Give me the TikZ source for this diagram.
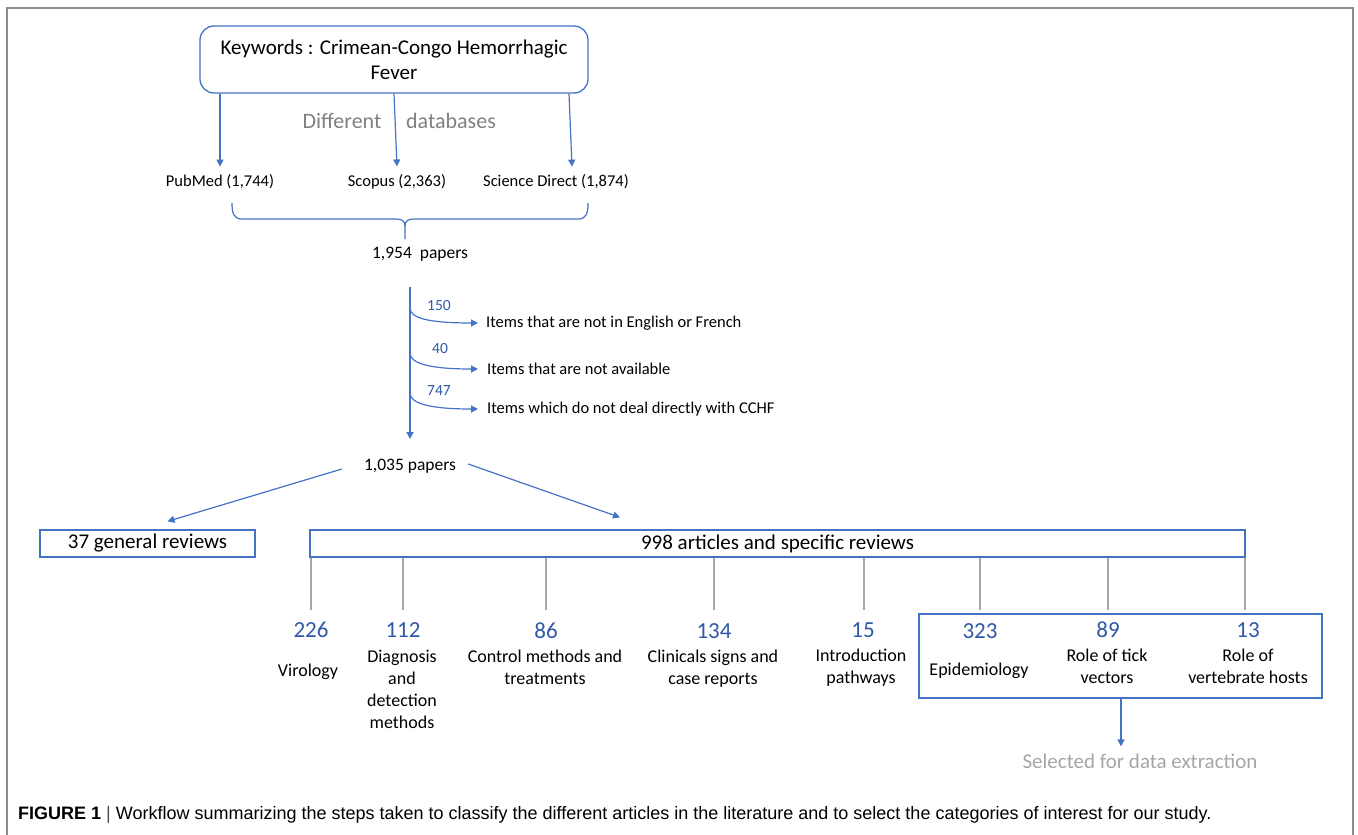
\documentclass[tikz,border=0pt]{standalone}
\usepackage{fontspec}
\setmainfont{Carlito}
\newfontfamily\capfont{Liberation Sans}
\usetikzlibrary{arrows.meta,calc}
\definecolor{cblue}{HTML}{4472C4}
\definecolor{nblue}{HTML}{3058A8}
\definecolor{gtext}{HTML}{808080}
\definecolor{ltext}{HTML}{A6A6A6}
\definecolor{gline}{HTML}{A8A8A8}
\definecolor{framec}{HTML}{8C8C8C}
\begin{document}
\begin{tikzpicture}[x=1pt,y=-1pt,
  barrow/.style={draw=cblue,line width=1.2pt,-{Triangle[width=7pt,length=7pt]}},
  bline/.style={draw=cblue,line width=1.2pt},
  glinestyle/.style={draw=gline,line width=1.2pt},
  kwbox/.style={draw=cblue,line width=1.3pt,rounded corners=14pt,minimum width=388pt,minimum height=67pt,align=center,inner sep=0pt,font=\fontsize{21}{25}\selectfont},
  dbtxt/.style={inner sep=0pt,font=\fontsize{16.5}{20}\selectfont},
  greytxt/.style={inner sep=0pt,text=gtext,font=\fontsize{22}{26}\selectfont},
  papers/.style={inner sep=0pt,font=\fontsize{17.5}{21}\selectfont},
  itemtxt/.style={inner sep=0pt,anchor=west,font=\fontsize{16.5}{20}\selectfont},
  cnt/.style={inner sep=0pt,text=nblue,font=\fontsize{15.5}{18}\selectfont},
  bigbox/.style={draw=cblue,line width=1.3pt,minimum height=27pt,inner sep=0pt,font=\fontsize{21}{25}\selectfont},
  num/.style={inner sep=0pt,text=nblue,font=\fontsize{23}{27}\selectfont},
  cat/.style={inner sep=0pt,align=center,font=\fontsize{18}{22}\selectfont},
]
\useasboundingbox (0,0) rectangle (1358,835);
% frame
\draw[draw=framec,line width=1.5pt] (7,835) -- (7,8) -- (1353,8) -- (1353,835);

% keywords
\node[kwbox] (kw) at (394,59.5) {Keywords : Crimean-Congo Hemorrhagic\\Fever};
\node[dbtxt] (pm) at (220,182) {PubMed (1,744)};
\node[dbtxt] (sc) at (397,182) {Scopus (2,363)};
\node[dbtxt] (sd) at (556,182) {Science Direct (1,874)};
\draw[barrow] ($(kw.south)+(-174,0)$) -- ($(pm.north)+(0,-8)$);
\draw[barrow] (kw.south) -- ($(sc.north)+(0,-8)$);
\draw[barrow] ($(kw.south)+(175,0)$) -- ($(sd.north)+(16,-8)$);
\node[greytxt] (dif) at (342,121) {Different};
\node[greytxt] (dbs) at (451,121) {databases};

% brace
\coordinate (bl) at (232,203);
\coordinate (br) at (588,203);
\coordinate (btip) at (405,239);
\draw[bline] (bl) .. controls (232,214) and (234,219) .. (242,219) -- (396,219)
  .. controls (402,219) and (405,221) .. (405,226) -- (btip);
\draw[bline] (405,226) .. controls (405,221) and (408,219) .. (414,219) -- (578,219)
  .. controls (586,219) and (588,214) .. (br);
\node[papers] (p1954) at (420,254) {1,954\ \ papers};

% exclusions
\coordinate (vt) at (410,287);
\coordinate (vb) at (410,439);
\draw[barrow] (vt) -- (vb);
\node[itemtxt] (i1) at (486,323) {Items that are not in English or French};
\node[itemtxt] (i2) at (487,369) {Items that are not available};
\node[itemtxt] (i3) at (487,409) {Items which do not deal directly with CCHF};
\coordinate (b1) at (410,308);
\coordinate (b2) at (410,353);
\coordinate (b3) at (410,393);
\draw[barrow] (b1) .. controls (410,318) and (428,323) .. ($(i1.west)+(-8,0)$);
\draw[barrow] (b2) .. controls (410,363) and (428,369) .. ($(i2.west)+(-9,0)$);
\draw[barrow] (b3) .. controls (410,403) and (428,409) .. ($(i3.west)+(-9,0)$);
\node[cnt] (c1) at (439,306) {150};
\node[cnt] (c2) at (440,349) {40};
\node[cnt] (c3) at (439,391) {747};

% split
\node[papers] (p1035) at (410,466) {1,035 papers};
\node[bigbox,minimum width=215pt] (gr) at (147.5,543.5) {37 general reviews};
\node[bigbox,minimum width=935pt] (art) at (777.5,543.5) {998 articles and specific reviews};
\draw[barrow] ($(p1035.west)+(-22,3)$) -- ($(gr.north)+(20,-8)$);
\draw[barrow] ($(p1035.east)+(12,-2)$) -- ($(art.north)+(-157.5,-12)$);

% categories
\node[num] (n1) at (311,630) {226};
\node[num] (n2) at (403,630) {112};
\node[num] (n3) at (546,631) {86};
\node[num] (n4) at (714,631) {134};
\node[num] (n5) at (863,630) {15};
\node[num] (n6) at (980,631) {323};
\node[num] (n7) at (1108,630) {89};
\node[num] (n8) at (1248,630) {13};
\foreach \n/\x in {n1/311,n2/403,n3/546,n4/714,n5/864,n6/980,n7/1108,n8/1245}{
  \draw[glinestyle] (art.south -| \x,0) -- (\x,610);
}
\node[cat] (t1) at (308,672) {Virology};
\node[cat,anchor=north] (t2) at (402,650) {Diagnosis\\and\\detection\\methods};
\node[cat,anchor=north] (t3) at (545,650) {Control methods and\\treatments};
\node[cat,anchor=north] (t4) at (713,650) {Clinicals signs and\\case reports};
\node[cat,anchor=north] (t5) at (861,649) {Introduction\\pathways};
\node[cat] (t6) at (979,671) {Epidemiology};
\node[cat,anchor=north] (t7) at (1107,649) {Role of tick\\vectors};
\node[cat,anchor=north] (t8) at (1248,649) {Role of\\vertebrate hosts};

\node[draw=cblue,line width=1.3pt,minimum width=403pt,minimum height=84pt,inner sep=0pt] (sel) at (1120.5,656) {};
\node[inner sep=0pt,text=ltext,font=\fontsize{21}{25}\selectfont] (selt) at (1140,761) {Selected for data extraction};
\draw[barrow] ($(sel.south)+(0.5,0)$) -- ($(selt.north)+(-19,-7)$);

% caption
\node[inner sep=0pt,anchor=west,font=\capfont\fontsize{18}{21}\selectfont] (cap) at (18,815)
  {\textbf{FIGURE 1} {\color{black!70}|} Workflow summarizing the steps taken to classify the different articles in the literature and to select the categories of interest for our study.};
\end{tikzpicture}
\end{document}
